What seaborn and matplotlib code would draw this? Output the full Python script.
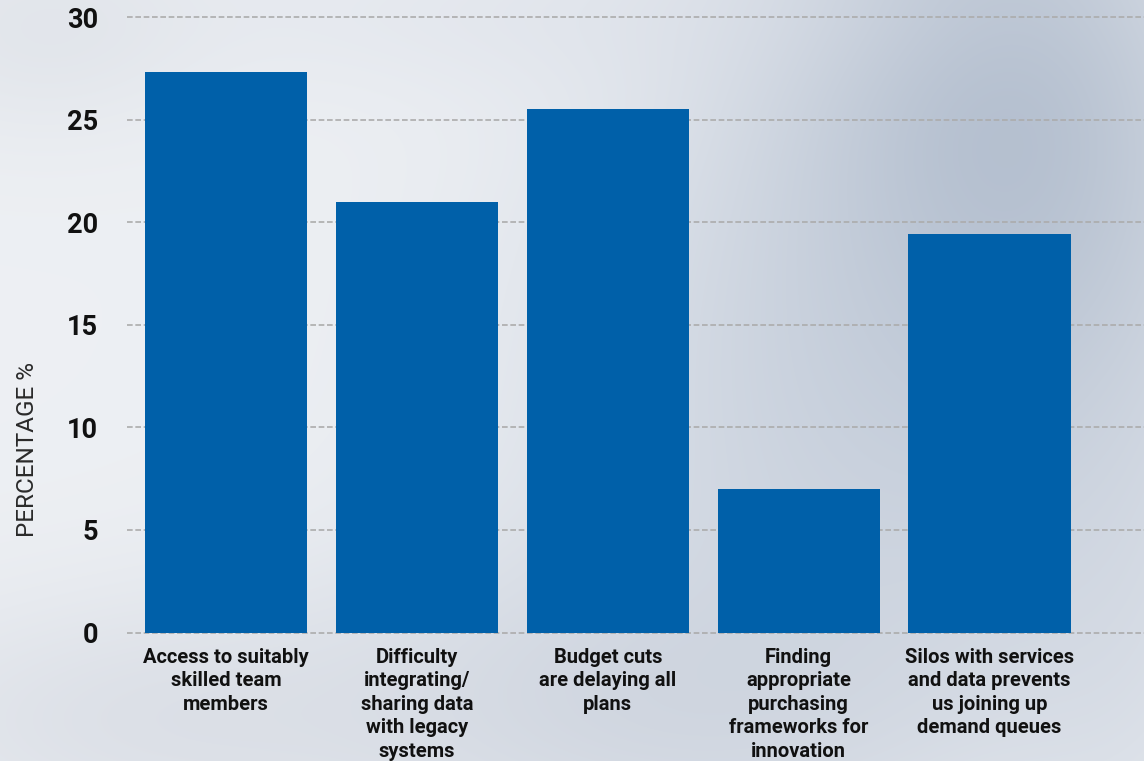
import numpy as np
import matplotlib
matplotlib.use("Agg")
import matplotlib.pyplot as plt
import seaborn as sns

categories = [
    "Access to suitably\nskilled team\nmembers",
    "Difficulty\nintegrating/\nsharing data\nwith legacy\nsystems",
    "Budget cuts\nare delaying all\nplans",
    "Finding\nappropriate\npurchasing\nframeworks for\ninnovation",
    "Silos with services\nand data prevents\nus joining up\ndemand queues",
]
values = [27.3, 21.0, 25.5, 7.0, 19.4]
y_ticks = [0, 5, 10, 15, 20, 25, 30]

BAR_COLOR = "#0060a9"

sns.set_theme(style="white")
plt.rcParams["font.family"] = ["Roboto", "DejaVu Sans"]

W, H = 1144, 761
fig = plt.figure(figsize=(W / 100, H / 100), dpi=100)

# soft cloudy grey backdrop built from smooth blobs
bg = fig.add_axes([0, 0, 1, 1], zorder=-10)
yy, xx = np.mgrid[0:H, 0:W]
base = np.array([0.93, 0.94, 0.955])
img = np.ones((H, W, 3)) * base
blobs = [
    # (cx, cy, sx, sy, strength, rgb)
    (1000, 150, 170, 260, 0.85, (0.66, 0.71, 0.78)),
    (820, 420, 220, 260, 0.55, (0.74, 0.78, 0.84)),
    (650, 700, 260, 120, 0.55, (0.76, 0.79, 0.84)),
    (150, 720, 220, 90, 0.45, (0.80, 0.82, 0.86)),
    (1120, 600, 90, 200, 0.35, (0.78, 0.81, 0.86)),
    (560, 10, 300, 60, 0.35, (0.84, 0.86, 0.90)),
    (40, 30, 120, 80, 0.35, (0.82, 0.84, 0.87)),
]
for cx, cy, sx, sy, s, col in blobs:
    w = s * np.exp(-(((xx - cx) / sx) ** 2 + ((yy - cy) / sy) ** 2) / 2)
    img = img * (1 - w[..., None]) + np.array(col) * w[..., None]
bg.imshow(img, aspect="auto", extent=[0, 1, 0, 1], origin="upper")
bg.axis("off")

left = 127 / W
bottom = (H - 632.5) / H
top = (H - 17) / H
ax = fig.add_axes([left, bottom, 1 - left, top - bottom])
ax.patch.set_alpha(0)

sns.barplot(x=categories, y=values, color=BAR_COLOR, saturation=1,
            width=0.85, linewidth=0, edgecolor="none", ax=ax, zorder=3)

ax.set_ylim(0, 30)
ax.set_xlim(-0.52, 4.81)
ax.set_yticks(y_ticks)
ax.set_yticklabels([str(t) for t in y_ticks], fontsize=19.5, fontweight="bold",
                   color="#111111")
ax.tick_params(axis="y", length=0, pad=21)
ax.tick_params(axis="x", length=0, pad=11)
for lbl in ax.get_xticklabels():
    lbl.set_fontsize(14.5)
    lbl.set_fontweight("bold")
    lbl.set_color("#111111")
    lbl.set_linespacing(1.3)
    lbl.set_verticalalignment("top")

ax.yaxis.grid(True, linestyle=(0, (3.4, 1.6)), color="#acacac", linewidth=1.2,
              zorder=0)
ax.set_axisbelow(True)
for sp in ax.spines.values():
    sp.set_visible(False)
for gl in ax.get_ygridlines():
    gl.set_clip_on(False)

ax.set_xlabel("")
ax.set_ylabel("PERCENTAGE %", fontsize=17.5, color="#2a2a2a",
              fontweight="normal")
ax.yaxis.set_label_coords(-0.087, 0.298)

fig.savefig("out.png", dpi=100)
